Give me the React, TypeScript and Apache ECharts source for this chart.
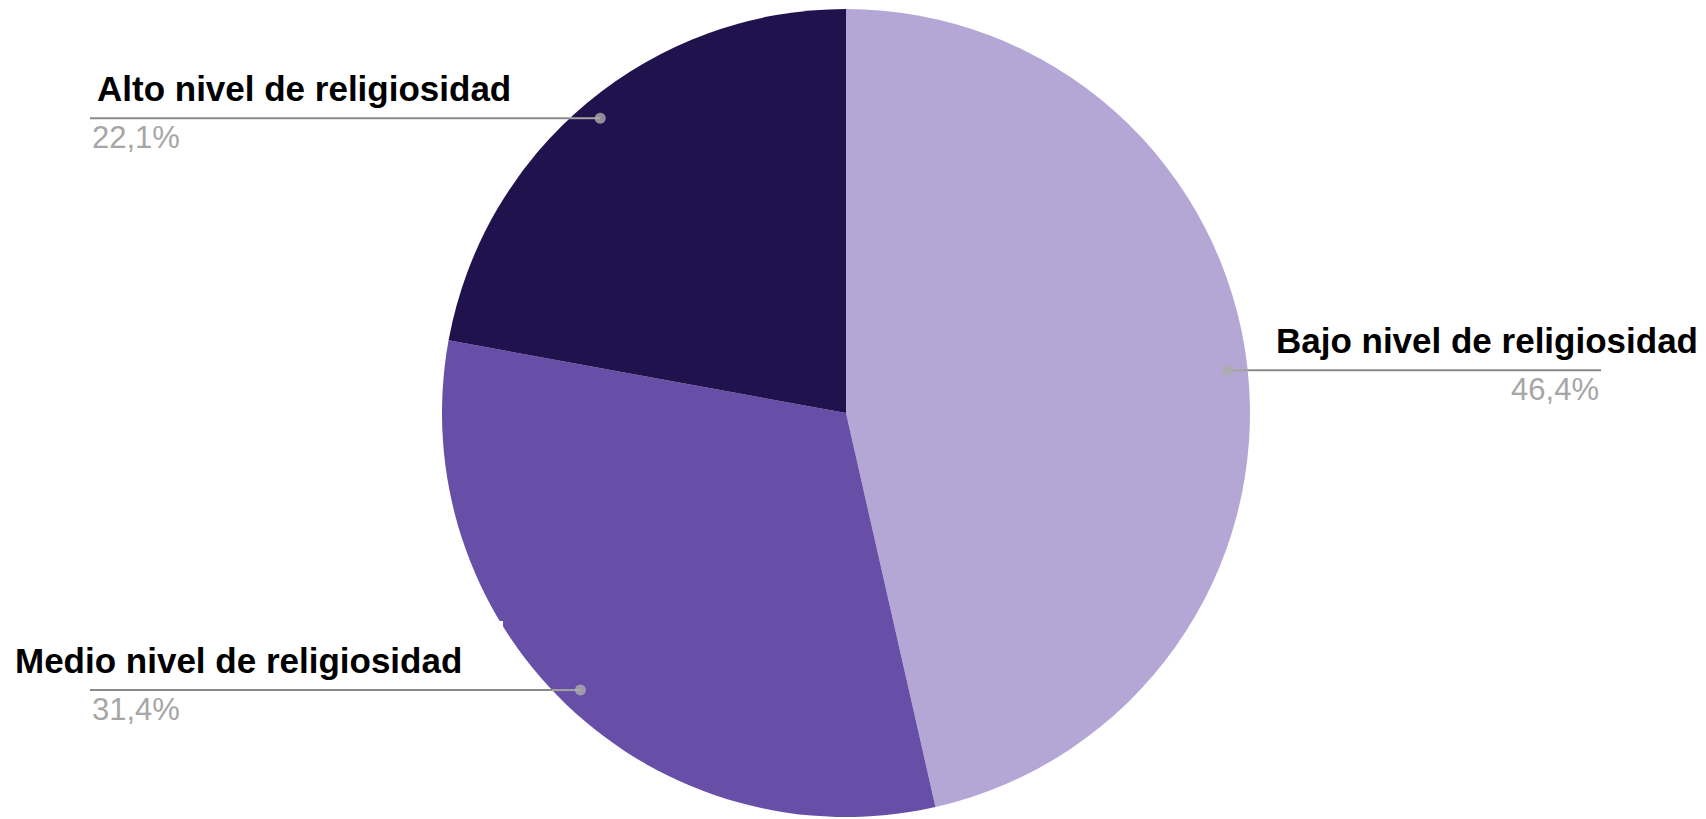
import React, { useEffect, useRef } from "react";
import * as echarts from "echarts";

// ---- data ----
const CATEGORIES = [
  "Bajo nivel de religiosidad",
  "Medio nivel de religiosidad",
  "Alto nivel de religiosidad",
];
const VALUES = [46.4, 31.4, 22.1];
const COLORS = ["#b4a7d6", "#674ea7", "#20124d"];

// ---- layout ----
const W = 1706;
const H = 819;
const CX = 846;
const CY = 413;
const R = 404;
const DOT_FRAC = 0.95;
const NAME_DY = -30;
const PCT_DY = 19;
const PLACEMENT = [
  { side: "right", nameX: 1698, lineEndX: 1601, pctX: 1599 },
  { side: "left", nameX: 15, lineEndX: 90, pctX: 92 },
  { side: "left", nameX: 97, lineEndX: 90, pctX: 92 },
];

const TOTAL = VALUES.reduce((a, b) => a + b, 0);
const midShare = (i: number) => {
  let cum = 0;
  for (let j = 0; j < i; j++) cum += VALUES[j];
  return cum + VALUES[i] / 2;
};
const dotPos = (i: number): [number, number] => {
  const a = (midShare(i) / TOTAL) * Math.PI * 2;
  const r = R * DOT_FRAC;
  return [CX + r * Math.sin(a), CY - r * Math.cos(a)];
};
const fmtPct = (v: number) => v.toFixed(1).replace(".", ",") + "%";

export default function App() {
  const ref = useRef<HTMLDivElement>(null);
  useEffect(() => {
    if (!ref.current) return;
    const chart = echarts.init(ref.current, undefined, { renderer: "svg" });
    const pieData = CATEGORIES.map((name, i) => ({
      name,
      value: VALUES[i],
      itemStyle: { color: COLORS[i] },
    }));
    chart.setOption({
      animation: false,
      backgroundColor: "#ffffff",
      polar: { center: [CX, CY], radius: R },
      angleAxis: { type: "value", min: 0, max: TOTAL, startAngle: 90, clockwise: true, show: false },
      radiusAxis: { type: "value", min: 0, max: 1, show: false },
      graphic: [
        {
          type: "rect",
          shape: { x: 478, y: 621, width: 25, height: 25 },
          style: { fill: "#ffffff" },
          z: 100,
        },
      ],
      series: [
        {
          type: "pie",
          center: [CX, CY],
          radius: R,
          startAngle: 90,
          clockwise: true,
          avoidLabelOverlap: false,
          silent: true,
          itemStyle: { borderWidth: 0 },
          data: pieData,
          label: {
            show: true,
            position: "outside",
            formatter: "{b}",
            fontSize: 35,
            fontWeight: "bold",
            fontFamily: "'Liberation Sans', Arial, sans-serif",
            color: "#000000",
            lineHeight: 40,
          },
          labelLine: { show: false },
          labelLayout: (params: any) => {
            const i = params.dataIndex;
            const [, dy] = dotPos(i);
            const p = PLACEMENT[i];
            return {
              x: p.nameX,
              y: dy + NAME_DY,
              align: p.side === "left" ? "left" : "right",
              verticalAlign: "middle",
            };
          },
        },
        {
          type: "pie",
          center: [CX, CY],
          radius: R,
          startAngle: 90,
          clockwise: true,
          avoidLabelOverlap: false,
          silent: true,
          itemStyle: { color: "rgba(0,0,0,0)", borderWidth: 0 },
          data: CATEGORIES.map((name, i) => ({ name, value: VALUES[i] })),
          label: {
            show: true,
            position: "outside",
            formatter: (p: any) => fmtPct(VALUES[p.dataIndex]),
            fontSize: 31,
            fontFamily: "'Liberation Sans', Arial, sans-serif",
            color: "#a6a6a6",
            lineHeight: 36,
          },
          labelLine: { show: false },
          labelLayout: (params: any) => {
            const i = params.dataIndex;
            const [, dy] = dotPos(i);
            const p = PLACEMENT[i];
            return {
              x: p.pctX,
              y: dy + PCT_DY,
              align: p.side === "left" ? "left" : "right",
              verticalAlign: "middle",
            };
          },
        },
        {
          type: "custom",
          coordinateSystem: "none",
          silent: true,
          z: 4,
          data: VALUES.map((v, i) => [i, v]),
          renderItem: (params: any) => {
            const i = params.dataIndex;
            const [dx, dy] = dotPos(i);
            const p = PLACEMENT[i];
            const half = Math.sqrt(Math.max(0, R * R - (dy - CY) * (dy - CY)));
            const edgeX = p.side === "left" ? CX - half : CX + half;
            return {
              type: "group",
              children: [
                {
                  type: "line",
                  shape: { x1: dx, y1: dy, x2: edgeX, y2: dy },
                  style: { stroke: "#a3a3a3", lineWidth: 2 },
                },
                {
                  type: "line",
                  shape: { x1: edgeX, y1: dy, x2: p.lineEndX, y2: dy },
                  style: { stroke: "#8a8a8a", lineWidth: 2 },
                },
              ],
            };
          },
        },
        {
          type: "scatter",
          coordinateSystem: "polar",
          silent: true,
          symbol: "circle",
          symbolSize: 11,
          itemStyle: { color: "#adadad" },
          z: 5,
          data: VALUES.map((_, i) => [DOT_FRAC, midShare(i)]),
        },
      ],
    });
    return () => chart.dispose();
  }, []);
  return (
    <div
      ref={ref}
      style={{ position: "fixed", left: 0, top: 0, width: W, height: H, background: "#fff" }}
    />
  );
}
